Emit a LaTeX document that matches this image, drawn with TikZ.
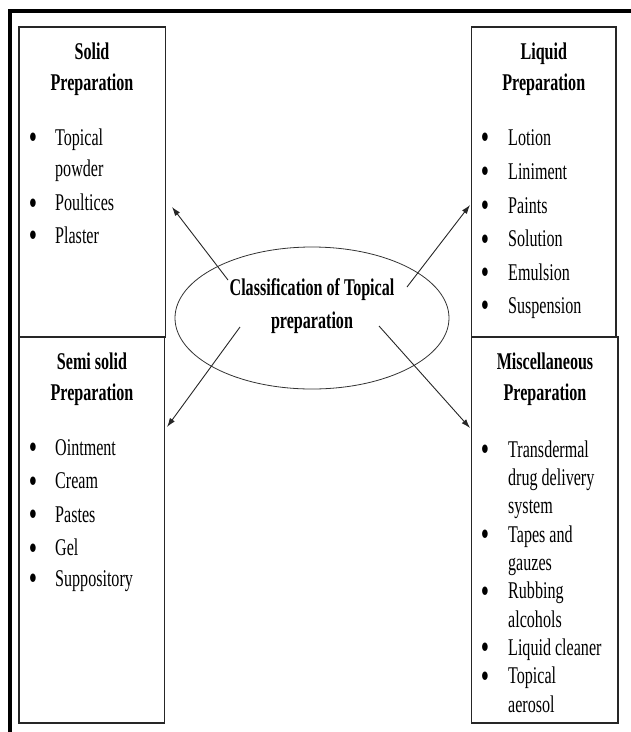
\documentclass[tikz,border=0pt]{standalone}
\usepackage{fontspec}
\setmainfont{Liberation Serif}[FakeStretch=0.67]
\usetikzlibrary{shapes.geometric,arrows.meta}
\begin{document}
\begin{tikzpicture}[x=1pt,y=-1pt,
  box/.style={draw=black!85, line width=1.1pt, inner sep=0pt, outer sep=0pt, anchor=north west},
  hd/.style={font=\fontsize{24}{28}\selectfont\bfseries, anchor=base, inner sep=0pt},
  it/.style={font=\fontsize{24}{28}\selectfont, anchor=base west, inner sep=0pt},
  bul/.style={font=\fontsize{31}{34}\selectfont\bfseries, anchor=base, inner sep=0pt, yshift=-2.5pt},
  arr/.style={-{Latex[length=9pt,width=6pt]}, line width=0.9pt, draw=black!85}]
\useasboundingbox (0,0) rectangle (631,732);
% outer frame
\draw[line width=4pt] (10.3,732) -- (10.3,11.3) -- (631,11.3);
% boxes
\node[box, minimum width=146.5pt, minimum height=310pt] (solid) at (19,27) {};
\node[box, minimum width=144.3pt, minimum height=310pt] (liquid) at (471.7,27) {};
\node[box, minimum width=145.5pt, minimum height=386pt] (semi) at (19,337) {};
\node[box, minimum width=146.3pt, minimum height=386pt] (misc) at (471.7,337) {};
% ellipse
\node[draw=black!80, line width=0.8pt, ellipse, minimum width=274pt, minimum height=142pt, inner sep=0pt] (cls) at (312,318) {};
\node[hd] (clst1) at (312,295) {Classification of Topical};
\node[hd] (clst2) at (312,328.3) {preparation};
% solid
\node[hd] (sh1) at (92,59.3) {Solid};
\node[hd] (sh2) at (92,90.7) {Preparation};
\node[bul] (sb1) at (33,145) {•};
\node[it] (si1) at (55,145) {Topical};
\node[it] (si1b) at (55,176.7) {powder};
\node[bul] (sb2) at (33,210.7) {•};
\node[it] (si2) at (55,210.7) {Poultices};
\node[bul] (sb3) at (33,243.3) {•};
\node[it] (si3) at (55,243.3) {Plaster};
% liquid
\node[hd] (lh1) at (543.8,59.3) {Liquid};
\node[hd] (lh2) at (543.8,90.7) {Preparation};
\node[bul] (lb1) at (485,145) {•};
\node[it] (li1) at (508,145) {Lotion};
\node[bul] (lb2) at (485,179) {•};
\node[it] (li2) at (508,179) {Liniment};
\node[bul] (lb3) at (485,213) {•};
\node[it] (li3) at (508,213) {Paints};
\node[bul] (lb4) at (485,246.7) {•};
\node[it] (li4) at (508,246.7) {Solution};
\node[bul] (lb5) at (485,280) {•};
\node[it] (li5) at (508,280) {Emulsion};
\node[bul] (lb6) at (485,313.3) {•};
\node[it] (li6) at (508,313.3) {Suspension};
% semi solid
\node[hd] (mh1) at (92,369.3) {Semi solid};
\node[hd] (mh2) at (92,400.7) {Preparation};
\node[bul] (mb1) at (33,455) {•};
\node[it] (mi1) at (55,455) {Ointment};
\node[bul] (mb2) at (33,488.5) {•};
\node[it] (mi2) at (55,488.5) {Cream};
\node[bul] (mb3) at (33,522) {•};
\node[it] (mi3) at (55,522) {Pastes};
\node[bul] (mb4) at (33,555.5) {•};
\node[it] (mi4) at (55,555.5) {Gel};
\node[bul] (mb5) at (33,586) {•};
\node[it] (mi5) at (55,586) {Suppository};
% miscellaneous
\node[hd] (xh1) at (545,369.3) {Miscellaneous};
\node[hd] (xh2) at (545,400.7) {Preparation};
\node[bul] (xb1) at (485,457) {•};
\node[it] (xi1) at (508,457) {Transdermal};
\node[it] (xi1b) at (508,485) {drug delivery};
\node[it] (xi1c) at (508,513.6) {system};
\node[bul] (xb2) at (485,542) {•};
\node[it] (xi2) at (508,542) {Tapes and};
\node[it] (xi2b) at (508,570) {gauzes};
\node[bul] (xb3) at (485,598.5) {•};
\node[it] (xi3) at (508,598.5) {Rubbing};
\node[it] (xi3b) at (508,627) {alcohols};
\node[bul] (xb4) at (485,655) {•};
\node[it] (xi4) at (508,655) {Liquid cleaner};
\node[bul] (xb5) at (485,683.7) {•};
\node[it] (xi5) at (508,683.7) {Topical};
\node[it] (xi5b) at (508,712) {aerosol};
% arrows
\coordinate (a1) at (228,280);
\coordinate (t1) at (172,207);
\coordinate (a2) at (407,287);
\coordinate (t2) at (470,205);
\coordinate (a3) at (240,327);
\coordinate (t3) at (167,427);
\coordinate (a4) at (379,326);
\coordinate (t4) at (470,428);
\draw[arr] (a1) -- (t1);
\draw[arr] (a2) -- (t2);
\draw[arr] (a3) -- (t3);
\draw[arr] (a4) -- (t4);
\end{tikzpicture}
\end{document}
